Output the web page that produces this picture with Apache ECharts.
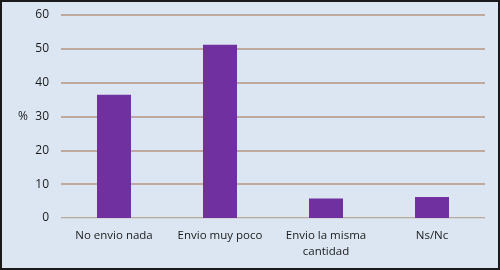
<!DOCTYPE html>
<html><head><meta charset="utf-8">
<script src="https://cdn.jsdelivr.net/npm/echarts@6/dist/echarts.min.js"></script>
<style>
html,body{margin:0;padding:0;background:#fff;}
#c{width:500px;height:270px;box-sizing:border-box;border:2px solid #1a1a1a;background:#dce6f2;}
</style></head><body>
<div id="c"></div>
<script>
const categories = ['No envio nada', 'Envio muy poco', 'Envio la misma\ncantidad', 'Ns/Nc'];
const values = [36.4, 51.2, 5.8, 6.2];
const yTicks = [0, 10, 20, 30, 40, 50, 60];

const chart = echarts.init(document.getElementById('c'), null, {renderer: 'canvas'});
chart.setOption({
  animation: false,
  backgroundColor: '#dce6f2',
  grid: {left: 59, right: 13, top: 13, bottom: 50},
  xAxis: {
    type: 'category', data: categories,
    axisLine: {show: true, lineStyle: {color: '#d0d6dc', width: 1}},
    axisTick: {show: false},
    axisLabel: {color: '#1a1a1a', fontFamily: 'Open Sans', fontSize: 11.5, margin: 10, lineHeight: 16, interval: 0}
  },
  yAxis: {
    type: 'value', min: 0, max: 60, interval: 10,
    name: '%', nameLocation: 'middle', nameRotate: 0, nameGap: 33,
    nameTextStyle: {color: '#1a1a1a', fontFamily: 'Open Sans', fontSize: 12},
    axisLine: {show: false}, axisTick: {show: false},
    axisLabel: {color: '#1a1a1a', fontFamily: 'Open Sans', fontSize: 12, margin: 12,
      formatter: v => yTicks.includes(v) ? String(v) : ''},
    splitLine: {lineStyle: {color: '#b39580', width: 1.5}}
  },
  series: [{
    type: 'bar', data: values, barWidth: 34,
    itemStyle: {color: '#7030a0'}
  }]
});
</script></body></html>
